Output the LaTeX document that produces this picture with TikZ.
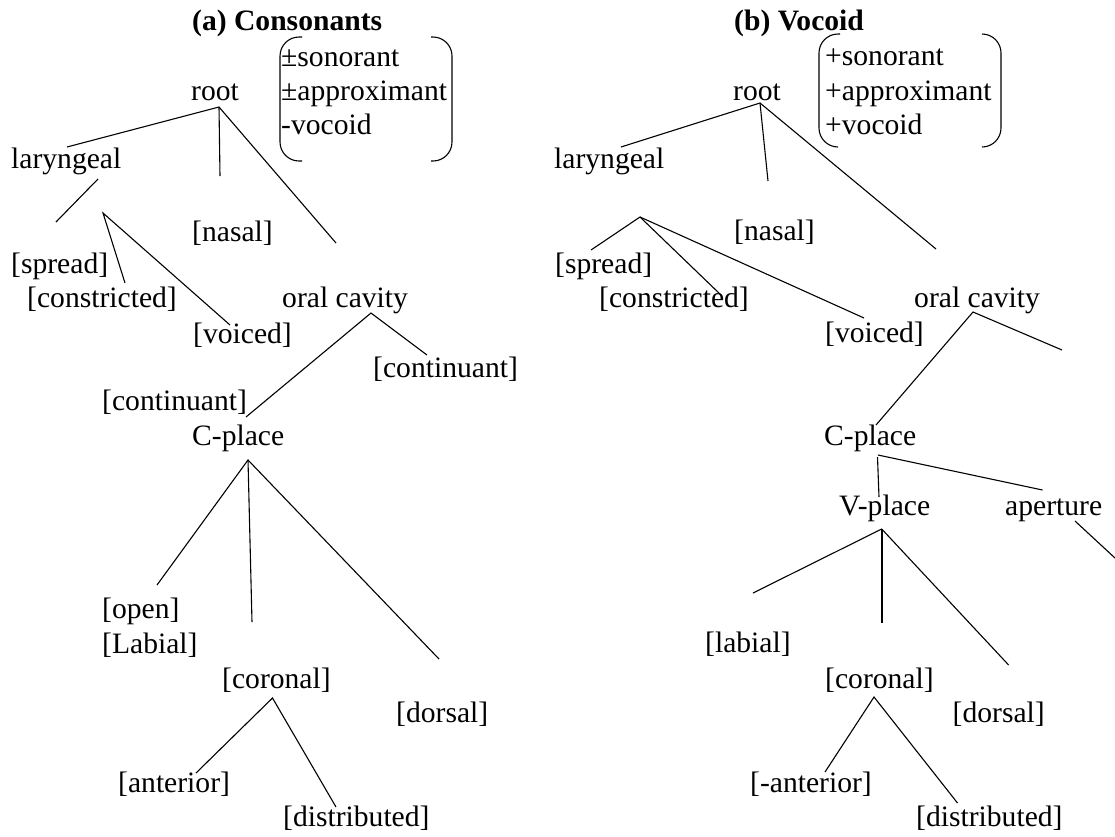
\documentclass[tikz,border=0pt]{standalone}
\usepackage{fontspec}
\setmainfont{Liberation Serif}
\begin{document}
\begin{tikzpicture}[x=1pt,y=-1pt,
  lbl/.style={anchor=base west, inner sep=0pt, font=\fontsize{29.6}{34}\selectfont},
  ttl/.style={anchor=base west, inner sep=0pt, font=\fontsize{29.6}{34}\selectfont\bfseries},
  edge/.style={line width=1.1pt},
  thickedge/.style={line width=2.2pt},
  brk/.style={line width=1.1pt, rounded corners=19pt}]
\useasboundingbox (0,0) rectangle (1115,836);

% ---------------- (a) Consonants ----------------
\node[ttl] (tA) at (192,30) {(a) Consonants};
\node[lbl] (fA1) at (281,66) {±sonorant};
\node[lbl] (fA2) at (281,100) {±approximant};
\node[lbl] (fA3) at (281,134) {-vocoid};
\draw[brk] (302,37) -- (280,37) -- (280,161) -- (302,161);
\draw[brk] (431,37) -- (452,37) -- (452,161) -- (431,161);

\node[lbl] (rootA) at (191,100) {root};
\node[lbl] (larA) at (11,168) {laryngeal};
\node[lbl] (nasA) at (192,241) {[nasal]};
\node[lbl] (sprA) at (11,273) {[spread]};
\node[lbl] (conA) at (27,307) {[constricted]};
\node[lbl] (voiA) at (193,343) {[voiced]};
\node[lbl] (oralA) at (282,307) {oral cavity};
\node[lbl] (contRA) at (373,377) {[continuant]};
\node[lbl] (contLA) at (102,410) {[continuant]};
\node[lbl] (cplA) at (192,445) {C-place};
\node[lbl] (openA) at (102,618) {[open]};
\node[lbl] (labA) at (102,653) {[Labial]};
\node[lbl] (corA) at (222,688) {[coronal]};
\node[lbl] (dorA) at (396,722) {[dorsal]};
\node[lbl] (antA) at (118,792) {[anterior]};
\node[lbl] (disA) at (283,826) {[distributed]};

% branching points and line ends
\coordinate (rtA) at (219,107);
\coordinate (rtA1) at (67,147);
\coordinate (rtA2) at (220,176);
\coordinate (rtA3) at (336,243);
\coordinate (lxA0) at (98,179);
\coordinate (lxA1) at (56,222);
\coordinate (lxA) at (103,213);
\coordinate (lxA2) at (125,283);
\coordinate (lxA3) at (230,325);
\coordinate (ocA) at (371,313);
\coordinate (ocA1) at (427,355);
\coordinate (ocA2) at (246,417);
\coordinate (cpA) at (248,460);
\coordinate (cpA1) at (157,585);
\coordinate (cpA2) at (252,622);
\coordinate (cpA3) at (439,659);
\coordinate (crA) at (272.5,698);
\coordinate (crA1) at (196,773);
\coordinate (crA2) at (336,807);

\draw[edge] (rtA1) -- (rtA) -- (rtA3);
\draw[edge] (rtA) -- (rtA2);
\draw[edge] (lxA0) -- (lxA1);
\draw[edge] (lxA2) -- (lxA) -- (lxA3);
\draw[edge] (ocA2) -- (ocA) -- (ocA1);
\draw[edge] (cpA1) -- (cpA) -- (cpA3);
\draw[edge] (cpA) -- (cpA2);
\draw[edge] (crA1) -- (crA) -- (crA2);

% ---------------- (b) Vocoid ----------------
\node[ttl] (tB) at (734,30) {(b) Vocoid};
\node[lbl] (fB1) at (825,65) {+sonorant};
\node[lbl] (fB2) at (825,100) {+approximant};
\node[lbl] (fB3) at (825,134) {+vocoid};
\draw[brk] (840,34) -- (819,34) -- (819,147) -- (838,147);
\draw[brk] (982,34) -- (1001,34) -- (1001,147) -- (982,147);

\node[lbl] (rootB) at (733,100) {root};
\node[lbl] (larB) at (554,168) {laryngeal};
\node[lbl] (nasB) at (734,240) {[nasal]};
\node[lbl] (sprB) at (555,273) {[spread]};
\node[lbl] (conB) at (599,307) {[constricted]};
\node[lbl] (voiB) at (825,342) {[voiced]};
\node[lbl] (oralB) at (914,307) {oral cavity};
\node[lbl] (cplB) at (824,445) {C-place};
\node[lbl] (vplB) at (839,515) {V-place};
\node[lbl] (aprB) at (1005,515) {aperture};
\node[lbl] (labB) at (705,652) {[labial]};
\node[lbl] (corB) at (825,688) {[coronal]};
\node[lbl] (dorB) at (952.5,722) {[dorsal]};
\node[lbl] (antB) at (750,792) {[-anterior]};
\node[lbl] (disB) at (916,826) {[distributed]};

\coordinate (rtB) at (760,103);
\coordinate (rtB1) at (621,147);
\coordinate (rtB2) at (768,181);
\coordinate (rtB3) at (936,249);
\coordinate (lxB) at (640,217);
\coordinate (lxB1) at (591,250);
\coordinate (lxB2) at (721,295);
\coordinate (lxB3) at (864,318);
\coordinate (ocB) at (973,312);
\coordinate (ocB1) at (1062,350);
\coordinate (ocB2) at (876,425);
\coordinate (cpB) at (878,455);
\coordinate (cpB1) at (1042.5,490);
\coordinate (cpB0) at (877.5,457);
\coordinate (cpB2) at (879,497);
\coordinate (vpB) at (881.7,529);
\coordinate (vpB1) at (753,593);
\coordinate (vpB2) at (881.7,623);
\coordinate (vpB3) at (1008.6,665);
\coordinate (apB) at (1075,521);
\coordinate (apB1) at (1115,558);
\coordinate (crB) at (874,697);
\coordinate (crB1) at (825,772);
\coordinate (crB2) at (957.5,803);

\draw[edge] (rtB1) -- (rtB) -- (rtB3);
\draw[edge] (rtB) -- (rtB2);
\draw[edge] (lxB1) -- (lxB) -- (lxB3);
\draw[edge] (lxB) -- (lxB2);
\draw[edge] (ocB2) -- (ocB) -- (ocB1);
\draw[edge] (cpB) -- (cpB1);
\draw[edge] (cpB0) -- (cpB2);
\draw[edge] (vpB1) -- (vpB) -- (vpB3);
\draw[thickedge] (vpB) -- (vpB2);
\draw[edge] (apB) -- (apB1);
\draw[edge] (crB1) -- (crB) -- (crB2);
\end{tikzpicture}
\end{document}
